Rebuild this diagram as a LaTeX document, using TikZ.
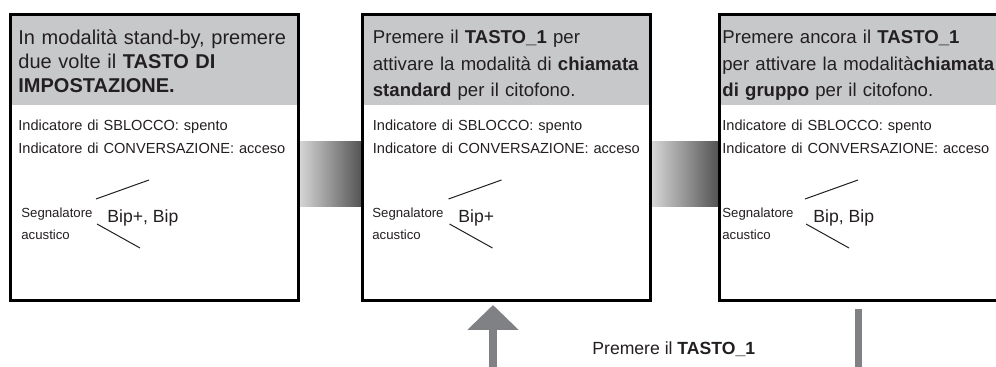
\documentclass[tikz,border=0pt]{standalone}
\usepackage{fontspec}
\setmainfont{Liberation Sans}
\usetikzlibrary{calc, arrows.meta}
\definecolor{headgray}{RGB}{199,200,202}
\definecolor{ink}{RGB}{35,31,32}
\definecolor{keygray}{RGB}{128,129,132}

\tikzset{
	panel/.style={rectangle, minimum width=144pt, minimum height=143pt, inner sep=0pt, outer sep=0pt},
	frame/.style={draw=black, line width=1.5pt},
	headtext/.style={anchor=base west, inner sep=0pt, text width=150pt, align=left, text=ink, font=\fontsize{9.3}{13.4}\selectfont},
	statetext/.style={anchor=base west, inner sep=0pt, text width=150pt, align=left, text=ink, font=\fontsize{7.3}{11.5}\selectfont},
	signaltext/.style={anchor=base west, inner sep=0pt, text width=60pt, align=left, text=ink, font=\fontsize{6.6}{11}\selectfont},
	beeptext/.style={anchor=base west, inner sep=0pt, text=ink, font=\fontsize{8.8}{10}\selectfont},
	flowbar/.style={left color=black!15, right color=black!68},
	brace/.style={draw=ink, line width=0.5pt},
	keyarrow/.style={draw=keygray, line width=4pt, -{Triangle[width=25pt, length=12.5pt]}},
	keybar/.style={draw=keygray, line width=3.5pt}
}

\begin{document}
\begin{tikzpicture}[x=0.5pt, y=-0.5pt]
	\path[use as bounding box, clip] (0,0) rectangle (996,367);
	\node[panel] (box1) at (154,157.5) {};
	\node[panel] (box2) at (506.5,157.5) {};
	\node[panel] (box3) at (863,157.5) {};
	\foreach \b in {box1,box2,box3} {
		\fill[headgray] (\b.north west) rectangle ($(\b.north east)+(0,90.5)$);
	}
	\shade[flowbar] ($(box1.east)+(0,-15.5)$) rectangle ($(box2.west)+(0,49.5)$);
	\shade[flowbar] ($(box2.east)+(0,-15.5)$) rectangle ($(box3.west)+(0,49.5)$);
	\foreach \b in {box1,box2,box3} {
		\draw[frame] (\b.north west) rectangle (\b.south east);
		\draw[brace] ($(\b.west)+(86,41.5)$) -- ++(53,-19);
		\draw[brace] ($(\b.west)+(87,66.5)$) -- ++(43,24);
	}

	\node[headtext, font=\fontsize{10}{12}\selectfont] (head1) at (18,45) {In modalità stand-by, premere\\due volte il \textbf{TASTO DI}\\\textbf{IMPOSTAZIONE.}};
	\node[headtext] (head2) at (372.5,43.3) {Premere il \textbf{TASTO\_1} per\\attivare la modalità di \textbf{chiamata}\\\textbf{standard} per il citofono.};
	\node[headtext] (head3) at (722,43.3) {Premere ancora il \textbf{TASTO\_1}\\per attivare la modalità\textbf{chiamata}\\\textbf{di gruppo} per il citofono.};

	\node[statetext] (state1) at (18,131) {Indicatore di SBLOCCO: spento\\Indicatore di CONVERSAZIONE: acceso};
	\node[statetext] (state2) at (372.5,131) {Indicatore di SBLOCCO: spento\\Indicatore di CONVERSAZIONE: acceso};
	\node[statetext] (state3) at (722,131) {Indicatore di SBLOCCO: spento\\Indicatore di CONVERSAZIONE: acceso};

	\node[signaltext] (sig1) at (21,218) {Segnalatore\\acustico};
	\node[signaltext] (sig2) at (372,218) {Segnalatore\\acustico};
	\node[signaltext] (sig3) at (722,218) {Segnalatore\\acustico};
	\node[beeptext] (beep1) at (107,223) {Bip+, Bip};
	\node[beeptext] (beep2) at (458,223) {Bip+};
	\node[beeptext] (beep3) at (813,223) {Bip, Bip};

	\coordinate (press) at (493,372);
	\coordinate (presstip) at (493,305);
	\draw[keyarrow] (press) -- (presstip);
	\coordinate (hold) at (858.5,309);
	\coordinate (holdend) at (858.5,372);
	\draw[keybar] (hold) -- (holdend);
	\node[beeptext] (presslabel) at (592,355) {Premere il \textbf{TASTO\_1}};
\end{tikzpicture}
\end{document}
